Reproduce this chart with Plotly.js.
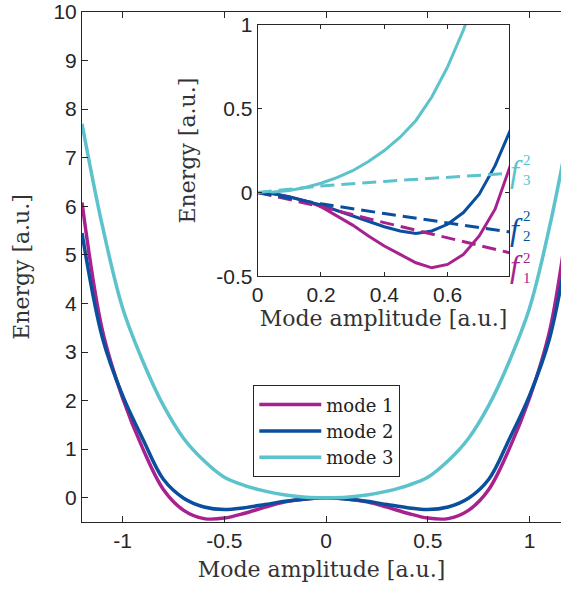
<!DOCTYPE html>
<html>
<head>
<meta charset="utf-8">
<script src="https://cdn.plot.ly/plotly-3.0.1.min.js"></script>
<style>html,body{margin:0;padding:0;background:#fff;}#chart{width:561px;height:589px;}</style>
</head>
<body>
<div id="chart"></div>
<script>
// ---- main plot data ----
const mainX = [-1.2,-1.1,-1.0,-0.9,-0.8,-0.7,-0.6,-0.5,-0.4,-0.3,-0.2,-0.1,0,0.1,0.2,0.3,0.4,0.5,0.6,0.7,0.8,0.9,1.0,1.1,1.2];
const mode1 = [6.08,3.45,2.05,1.0,0.17,-0.26,-0.43,-0.42,-0.32,-0.195,-0.085,-0.025,0,-0.025,-0.085,-0.195,-0.32,-0.42,-0.43,-0.26,0.17,1.0,2.05,3.45,6.08];
const mode2 = [5.45,3.3,2.1,1.2,0.38,-0.01,-0.19,-0.245,-0.205,-0.14,-0.074,-0.027,0,-0.027,-0.074,-0.14,-0.205,-0.245,-0.19,-0.01,0.38,1.2,2.1,3.3,5.45];
const mode3 = [7.7,5.6,3.9,2.8,1.9,1.22,0.76,0.42,0.25,0.135,0.055,0.01,0,0.01,0.055,0.135,0.25,0.42,0.76,1.22,1.9,2.8,3.9,5.6,7.7];
const seriesNames = ["mode 1","mode 2","mode 3"];

// ---- inset data ----
const insetX = [0,0.05,0.1,0.15,0.2,0.25,0.3,0.35,0.4,0.45,0.5,0.55,0.6,0.65,0.7,0.75,0.8];
const inset1 = [0,-0.008,-0.025,-0.05,-0.085,-0.14,-0.195,-0.26,-0.32,-0.37,-0.42,-0.45,-0.43,-0.37,-0.26,-0.1,0.17];
const inset2 = [0,-0.008,-0.027,-0.05,-0.074,-0.108,-0.14,-0.175,-0.205,-0.23,-0.245,-0.23,-0.19,-0.12,-0.01,0.16,0.38];
const inset3 = [0,0.003,0.012,0.03,0.055,0.088,0.13,0.185,0.25,0.33,0.43,0.57,0.75,0.97,1.24,1.55,1.9];
const dashX = [0,0.2,0.4,0.6,0.8];
const f1sq = [0,-0.085,-0.18,-0.27,-0.362];
const f2sq = [0,-0.068,-0.126,-0.18,-0.237];
const f3sq = [0,0.038,0.066,0.09,0.115];

// ---- ticks ----
const mainXTicks = [-1,-0.5,0,0.5,1];
const mainXTickText = ["-1","-0.5","0","0.5","1"];
const mainYTicks = [0,1,2,3,4,5,6,7,8,9,10];
const mainYTickText = ["0","1","2","3","4","5","6","7","8","9","10"];
const insetXTicks = [0,0.2,0.4,0.6];
const insetXTickText = ["0","0.2","0.4","0.6"];
const insetYTicks = [-0.5,0,0.5,1];
const insetYTickText = ["-0.5","0","0.5","1"];

const colors = ["#A8228F","#0A4F9E","#5CC2CB"];
const axisColor = "#262626";
const tickFont = {family:"Liberation Sans, Arial, sans-serif", size:21, color:axisColor};
const serif = "DejaVu Serif, Liberation Serif, serif";
const italicSerif = "Liberation Serif, Times New Roman, serif";
const titleFont = {family:serif, size:22, color:"#333"};

const mainSets = [mode1, mode2, mode3];
const insetSets = [inset1, inset2, inset3];
const dashSets = [f1sq, f2sq, f3sq];

const traces = [];
mainSets.forEach((ys,i)=>{
  traces.push({x:mainX, y:ys, type:"scatter", mode:"lines", name:seriesNames[i],
    line:{color:colors[i], width:3.5, shape:"spline", smoothing:1}, xaxis:"x", yaxis:"y"});
});
insetSets.forEach((ys,i)=>{
  traces.push({x:insetX, y:ys, type:"scatter", mode:"lines", showlegend:false,
    line:{color:colors[i], width:3}, xaxis:"x2", yaxis:"y2"});
});
dashSets.forEach((ys,i)=>{
  traces.push({x:dashX, y:ys, type:"scatter", mode:"lines", showlegend:false,
    line:{color:colors[i], width:3, dash:"14px,7px"}, xaxis:"x2", yaxis:"y2"});
});

// f labels, placed in the inset's domain coordinates just right of it
const fLabels = [
  {idx:2, y:0.419, yi:0.423, sub:"3"},
  {idx:1, y:0.188, yi:0.200, sub:"2"},
  {idx:0, y:0.041, yi:0.033, sub:"1"}
];
const annotations = [];
fLabels.forEach(l=>{
  annotations.push({xref:"x2 domain", yref:"y2 domain", x:0.995, y:l.y, xanchor:"left", yanchor:"middle",
    text:"<i>f</i>", showarrow:false, font:{family:italicSerif, size:32, color:colors[l.idx]}});
  annotations.push({xref:"x2 domain", yref:"y2 domain", x:1.047, y:l.yi, xanchor:"left", yanchor:"middle",
    text:"2<br>" + l.sub, showarrow:false, align:"left", font:{family:italicSerif, size:15, color:colors[l.idx]}});
});

const layout = {
  width:561, height:589,
  margin:{l:82, r:0, t:12, b:67},
  paper_bgcolor:"#fff", plot_bgcolor:"#fff",
  showlegend:true,
  legend:{x:0.3576, y:0.268, xanchor:"left", yanchor:"top", bgcolor:"#fff",
    bordercolor:"#262626", borderwidth:1, itemwidth:62,
    font:{family:serif, size:18, color:"#222"}, tracegroupgap:0},
  xaxis:{domain:[0,1], range:[-1.2,1.155], tickvals:mainXTicks, ticktext:mainXTickText,
    ticks:"inside", ticklen:6, tickcolor:axisColor, showline:true, linecolor:axisColor, linewidth:1,
    mirror:"ticks", showgrid:false, zeroline:false, tickfont:tickFont, ticklabeloverflow:"allow",
    title:{text:"Mode amplitude [a.u.]", font:titleFont, standoff:10}},
  yaxis:{domain:[0,1], range:[-0.5,10], tickvals:mainYTicks, ticktext:mainYTickText,
    ticks:"inside", ticklen:6, tickcolor:axisColor, showline:true, linecolor:axisColor, linewidth:1,
    mirror:false, showgrid:false, zeroline:false, tickfont:tickFont, ticklabeloverflow:"allow",
    title:{text:"Energy [a.u.]", font:titleFont, standoff:17}},
  xaxis2:{domain:[0.3668,0.8921], anchor:"y2", range:[0,0.795], tickvals:insetXTicks, ticktext:insetXTickText,
    ticks:"inside", ticklen:4, tickcolor:axisColor, showline:true, linecolor:axisColor, linewidth:1,
    mirror:"ticks", showgrid:false, zeroline:false, tickfont:tickFont,
    title:{text:"Mode amplitude [a.u.]", font:titleFont, standoff:4}},
  yaxis2:{domain:[0.482,0.9745], anchor:"x2", range:[-0.5,1], tickvals:insetYTicks, ticktext:insetYTickText,
    ticks:"inside", ticklen:4, tickcolor:axisColor, showline:true, linecolor:axisColor, linewidth:1,
    mirror:"ticks", showgrid:false, zeroline:false, tickfont:tickFont,
    title:{text:"Energy [a.u.]", font:titleFont, standoff:14}},
  annotations:annotations
};

Plotly.newPlot("chart", traces, layout, {displayModeBar:false, staticPlot:true});
</script>
</body>
</html>
